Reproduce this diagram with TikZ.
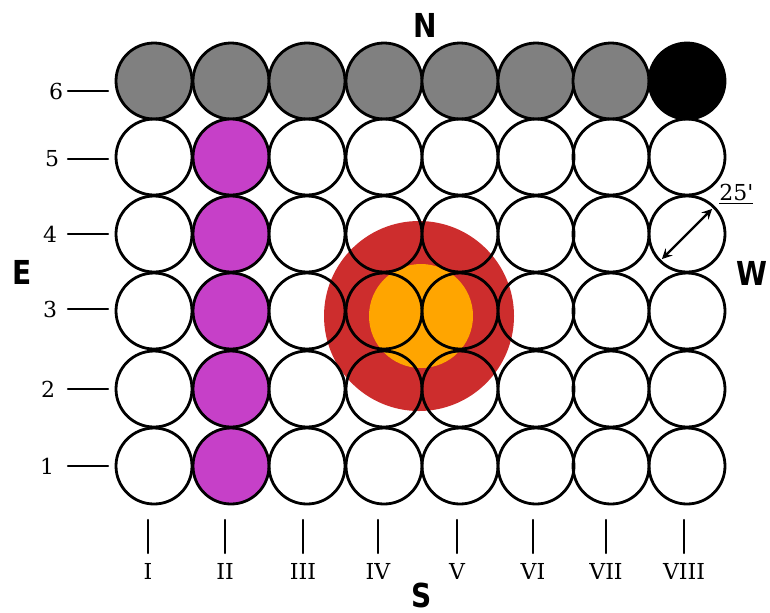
\documentclass[tikz,border=0pt]{standalone}
\usepackage{fontspec}
\setmainfont{DejaVu Serif}
\newfontfamily\compassfont[FakeStretch=0.85]{DejaVu Sans}
\definecolor{seatgray}{RGB}{128,128,128}
\definecolor{lilac}{RGB}{198,64,200}
\definecolor{firered}{RGB}{205,45,45}
\definecolor{fireorange}{RGB}{255,165,0}
\begin{document}
\begin{tikzpicture}[x=0.5pt,y=-0.5pt,line join=round,line cap=round,>=stealth,
  seat/.style={circle,draw,line width=1.4pt,minimum size=38pt,inner sep=0pt},
  lbl/.style={font=\fontsize{11}{13}\selectfont},
  compass/.style={font=\compassfont\bfseries\fontsize{16.5}{18}\selectfont}]
  \path[use as bounding box,fill=white] (0,0) rectangle (770,612);
  \fill[firered] (419,316) circle (95);
  \fill[fireorange] (421,316) circle (52);
  \foreach \c/\cx in {1/154,2/231,3/307,4/384,5/460,6/536,7/611}
    \node[seat,fill=seatgray] (c\c6) at (\cx,81) {};
  \node[seat,fill=black] (c86) at (687,81) {};
  \foreach \r/\ry in {1/466,2/389,3/311,4/234,5/157}
    \node[seat,fill=lilac] (c2\r) at (231,\ry) {};
  \foreach \c/\cx in {1/154,3/307,4/384,5/460,6/536,7/611,8/687}
    \foreach \r/\ry in {1/466,2/389,3/311,4/234,5/157}
      \node[seat] (c\c\r) at (\cx,\ry) {};
  \foreach \r/\ty/\lx in {1/466/47,2/389/48,3/309/50,4/234/50,5/159/52,6/91/56}{
    \node[lbl] (row\r) at (\lx,\ty) {\r};
    \draw[line width=1.2pt] (68,\ty) -- (108,\ty);}
  \foreach \c/\tx/\num in {1/148/I,2/225/II,3/303/III,4/378/IV,5/457/V,6/533/VI,7/606/VII,8/684/VIII}{
    \draw[line width=1.2pt] (\tx,520) -- (\tx,553);
    \node[lbl] (col\c) at (\tx,571) {\num};}
  \draw[<->,line width=1.2pt,shorten <=2pt,shorten >=2pt] (c84.225) -- (c84.45);
  \node[lbl,anchor=south west,inner sep=0pt] (diam) at (719,205) {\underline{25\textquotesingle}};
  \node[compass] (north) at (425,25) {N};
  \node[compass] (east) at (22,272) {E};
  \node[compass] (west) at (752,273) {W};
  \node[compass] (south) at (422,595) {S};
\end{tikzpicture}
\end{document}
